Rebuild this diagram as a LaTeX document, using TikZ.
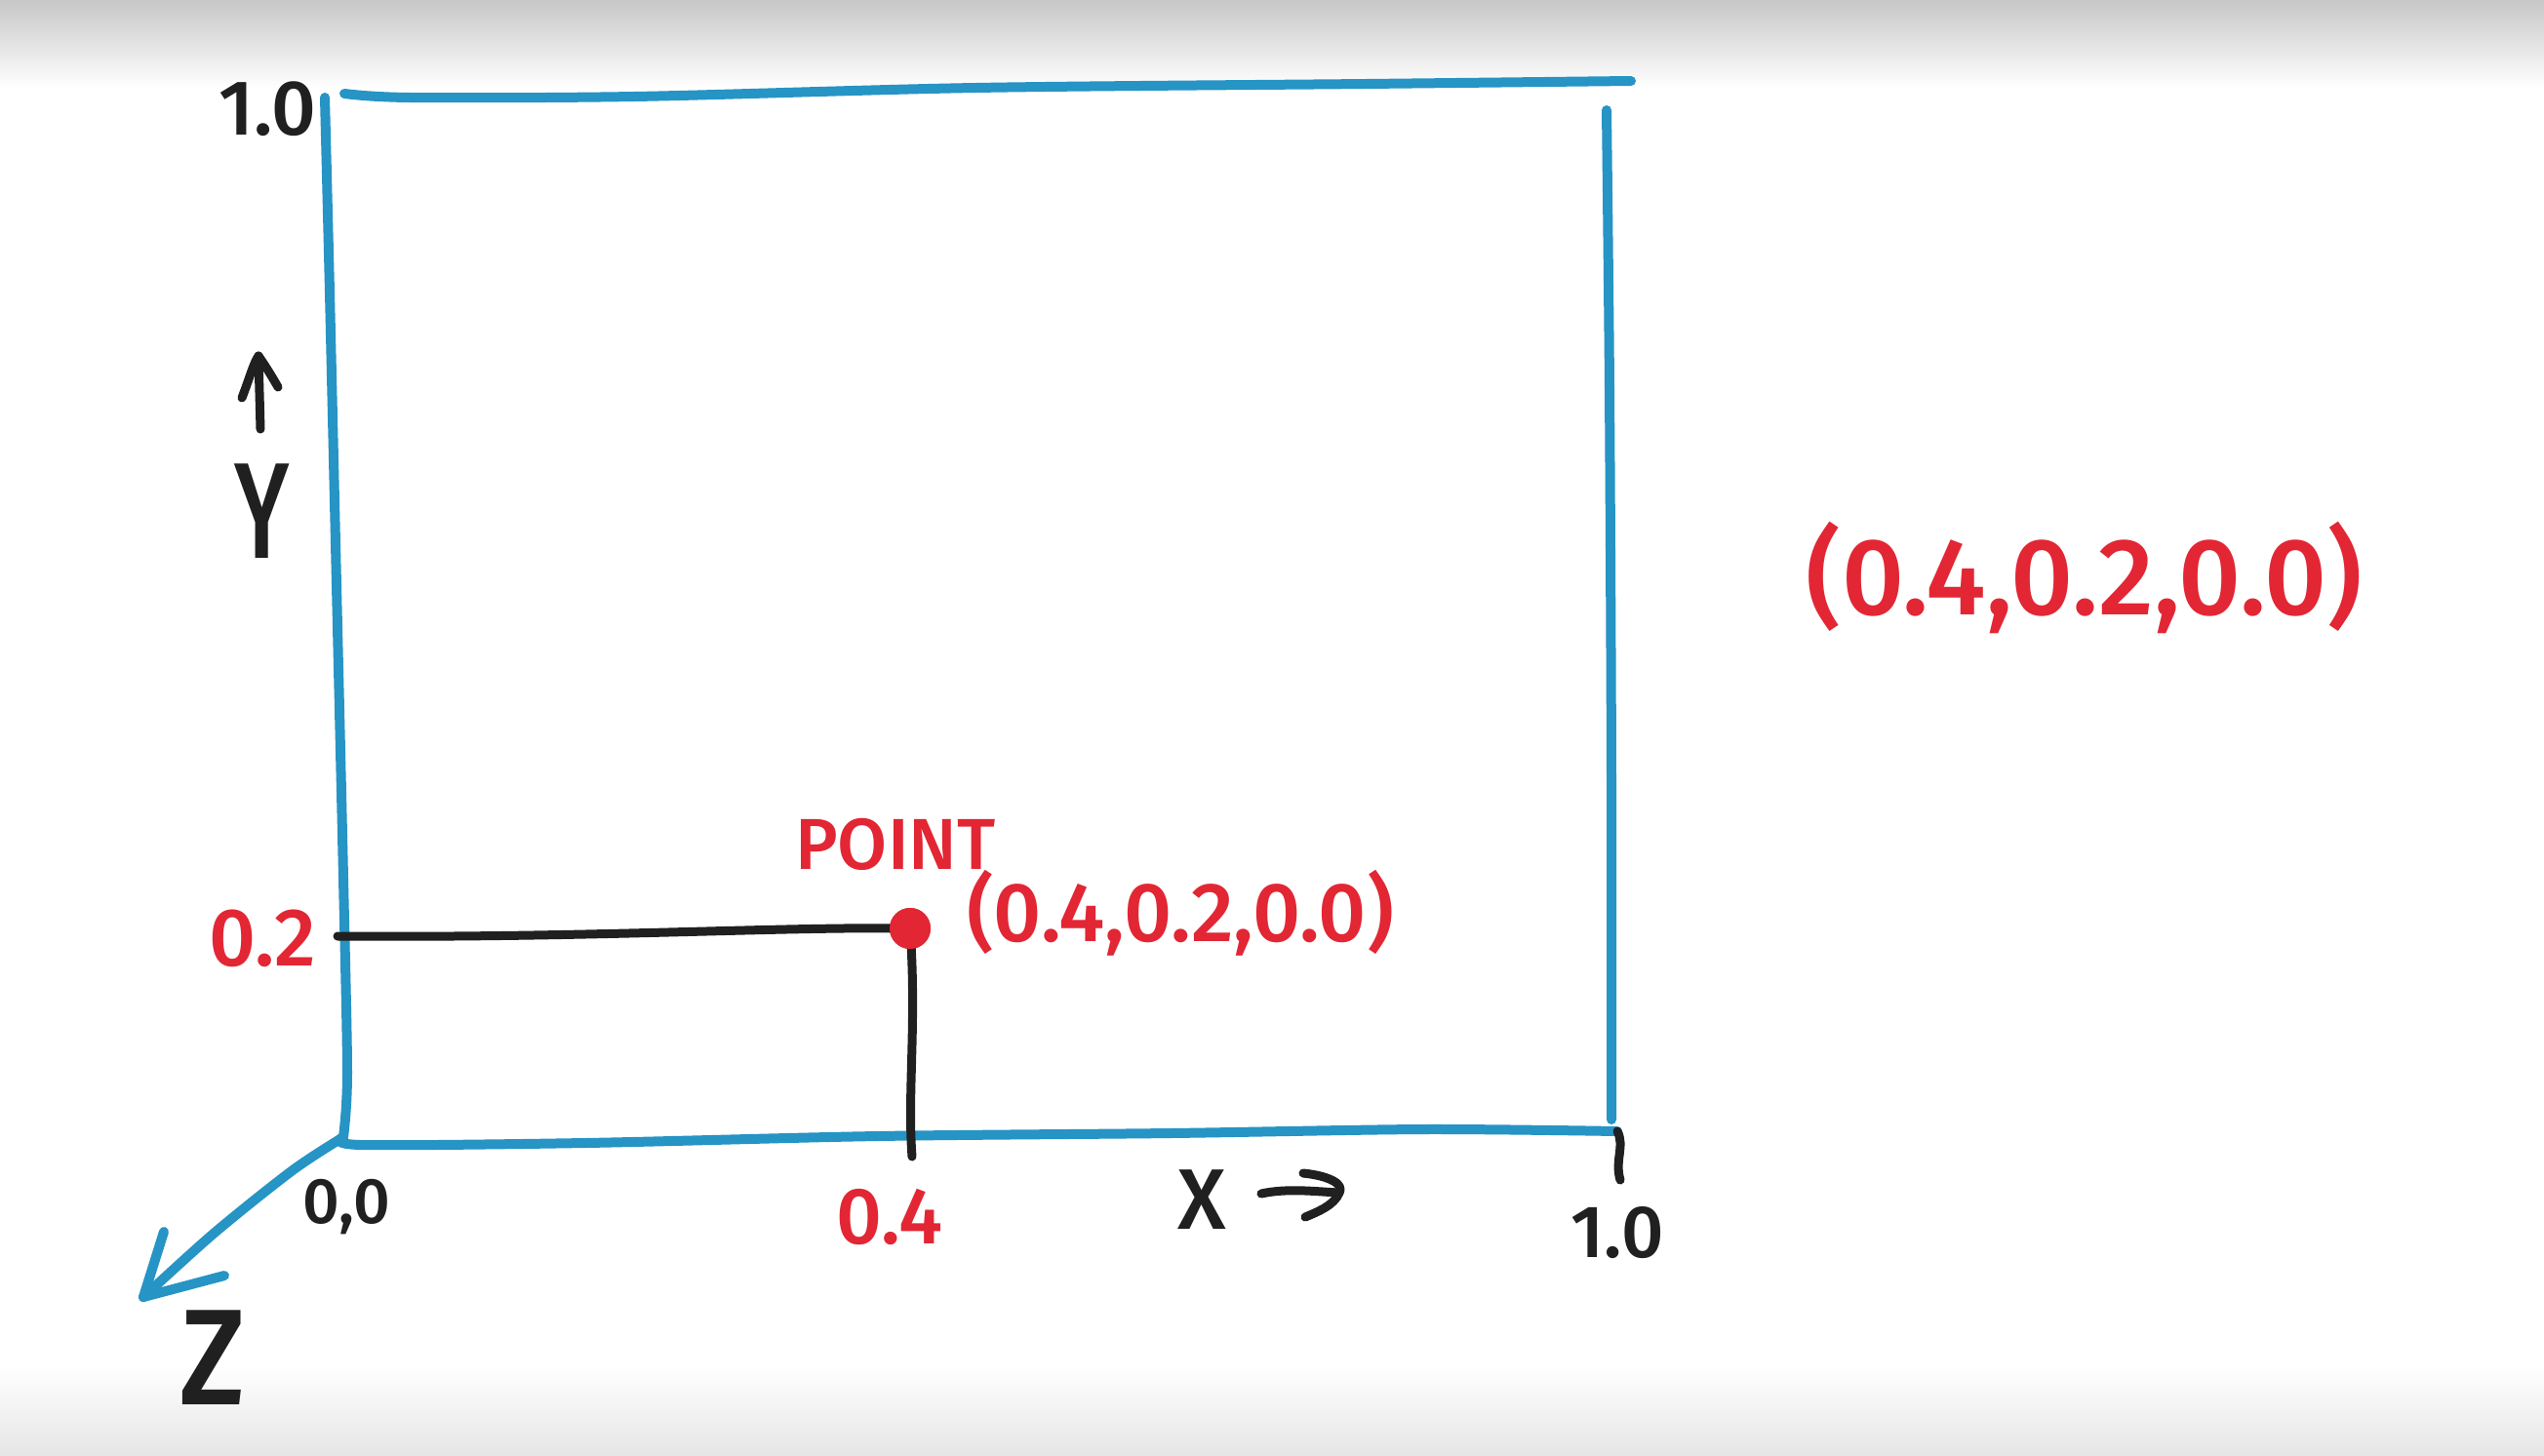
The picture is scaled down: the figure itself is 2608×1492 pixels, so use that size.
\documentclass[tikz,border=0pt]{standalone}
\usepackage{fontspec}
\setmainfont{Fira Sans Medium}
\definecolor{penblue}{RGB}{38,148,196}
\definecolor{penred}{RGB}{226,38,52}
\definecolor{penblack}{RGB}{32,32,32}
\tikzset{
  blueline/.style={draw=penblue,line width=10pt,line cap=round,line join=round},
  blackline/.style={draw=penblack,line width=9pt,line cap=round,line join=round},
  redtext/.style={text=penred,inner sep=0pt},
  blacktext/.style={text=penblack,inner sep=0pt},
}
\begin{document}
\begin{tikzpicture}[x=1pt,y=-1pt]
\useasboundingbox (0,0) rectangle (2608,1492);
\fill[white] (0,0) rectangle (2608,1492);
\shade[top color=black!22,bottom color=white] (0,0) rectangle (2608,90);
\shade[top color=white,bottom color=black!10] (0,1400) rectangle (2608,1492);
% frame corners
\coordinate (O) at (352,1166);
\coordinate (TL) at (333,100);
\coordinate (TLh) at (353,96);
\coordinate (TR) at (1672,83);
\coordinate (RT) at (1647,113);
\coordinate (RB) at (1652,1148);
\coordinate (BR) at (1658,1160);
\coordinate (ZT) at (147,1330);
% left axis
\draw[blueline] plot[smooth] coordinates {(TL) (338,300) (345,600) (352,900) (356,1100) (O)};
% top
\draw[blueline] plot[smooth] coordinates {(TLh) (420,100) (650,99) (1000,90) (1400,86) (TR)};
% right
\draw[blueline] plot[smooth] coordinates {(RT) (1650,400) (1652,800) (RB)};
% bottom
\draw[blueline] plot[smooth] coordinates {(O) (370,1174) (600,1172) (900,1165) (1200,1162) (1460,1158) (BR)};
% z axis
\draw[blueline] plot[smooth] coordinates {(O) (300,1200) (220,1264) (ZT)};
\draw[blueline] (ZT) -- (168,1263);
\draw[blueline] (ZT) -- (230,1308);
% tick at 1.0
\draw[blackline] (BR) .. controls (1666,1175) and (1655,1190) .. (1661,1210);
% point and guide lines
\coordinate (Yp) at (346,960);
\coordinate (Xp) at (935,1186);
\node[circle,fill=penred,minimum size=42pt,inner sep=0pt] (P) at (933,952) {};
\draw[blackline] (Yp) .. controls (600,962) and (800,950) .. (P.center);
\draw[blackline] (P.center) .. controls (940,1050) and (930,1120) .. (Xp);
\fill[penred] (P) circle (21pt);
% y arrow
\coordinate (ya1) at (267,440);
\coordinate (ya2) at (265,365);
\draw[blackline] (ya1) -- (ya2);
\draw[blackline] (248,408) .. controls (255,390) and (260,372) .. (ya2) .. controls (272,375) and (280,388) .. (285,397);
% x arrow
\coordinate (xa1) at (1293,1224);
\coordinate (xa2) at (1373,1223);
\draw[blackline] (xa1) .. controls (1320,1218) and (1350,1222) .. (xa2);
\draw[blackline] (1336,1203) .. controls (1365,1206) and (1378,1215) .. (xa2) .. controls (1368,1236) and (1350,1243) .. (1338,1248);
% labels
\node[blacktext,font=\fontsize{80}{80}\selectfont] (l10a) at (274,112) {1.0};
\node[blacktext,font=\fontsize{140}{140}\selectfont] (ylab) at (269,524) {\scalebox{0.7}[1]{Y}};
\node[redtext,font=\fontsize{84}{84}\selectfont] (l02) at (269,962) {0.2};
\node[blacktext,font=\fontsize{66}{66}\selectfont] (l00) at (355,1238) {0,0};
\node[blacktext,font=\fontsize{140}{140}\selectfont] (zlab) at (218,1392) {\scalebox{0.9}[1]{Z}};
\node[redtext,font=\fontsize{82}{82}\selectfont] (l04) at (912,1248) {0.4};
\node[blacktext,font=\fontsize{88}{88}\selectfont] (xlab) at (1232,1230) {X};
\node[blacktext,font=\fontsize{76}{76}\selectfont] (l10b) at (1658,1264) {1.0};
\node[redtext,font=\fontsize{74}{74}\selectfont] (ptlab) at (918,866) {POINT};
\node[redtext,font=\fontsize{86}{86}\selectfont] (ptcoord) at (1210,936) {(0.4,0.2,0.0)};
\node[redtext,font=\fontsize{112}{112}\selectfont] (bigcoord) at (2137,592) {(0.4,0.2,0.0)};
\end{tikzpicture}
\end{document}
